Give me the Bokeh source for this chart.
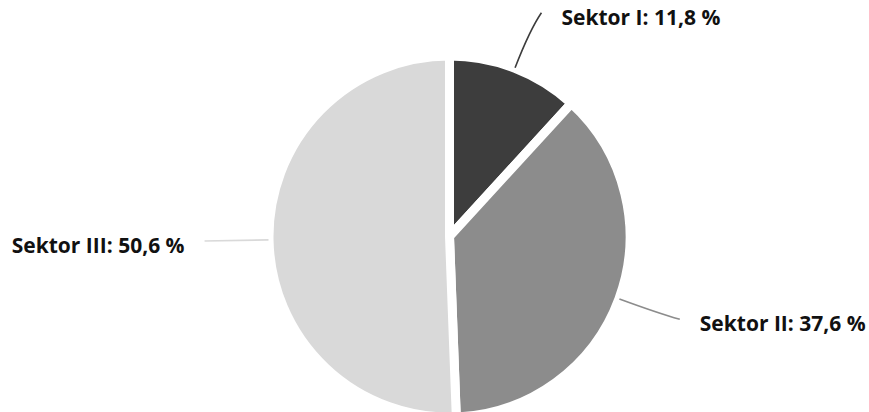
import math
from bokeh.plotting import figure
from bokeh.models import Range1d
from bokeh.core.properties import value
from bokeh.embed import file_html
from bokeh.resources import INLINE

# ---- data ----
categories = ["Sektor I", "Sektor II", "Sektor III"]
shares = [11.8, 37.6, 50.6]
labels = ["Sektor I: 11,8 %", "Sektor II: 37,6 %", "Sektor III: 50,6 %"]
colors = ["#3d3d3d", "#8c8c8c", "#d9d9d9"]

# ---- layout ----
W, H = 869, 412
CX, CY = 449, H - 236
R = 180.5           # wedge radius (white border eats 4.5px)
R_START = 181       # connector start radius
R_CTRL = 222        # connector control radius
R_LABEL = 240       # connector end radius
TEXT_GAP = 20

p = figure(width=W, height=H, x_range=Range1d(0, W), y_range=Range1d(0, H),
           output_backend="svg", toolbar_location=None, min_border=0,
           x_axis_location=None, y_axis_location=None)
p.grid.visible = False
p.outline_line_color = None
p.background_fill_color = "white"
p.border_fill_color = "white"

total = sum(shares)
starts, ends, mids = [], [], []
cum = 0.0
for s in shares:
    a0 = math.pi / 2 - cum / total * 2 * math.pi
    cum += s
    a1 = math.pi / 2 - cum / total * 2 * math.pi
    starts.append(a0)
    ends.append(a1)
    mids.append((a0 + a1) / 2)

p.wedge(x=[CX] * 3, y=[CY] * 3, radius=R, start_angle=starts, end_angle=ends,
        direction="clock", fill_color=colors, line_color="white", line_width=9)

for lab, col, m in zip(labels, colors, mids):
    c, s = math.cos(m), math.sin(m)
    side = 1 if c >= 0 else -1
    x0, y0 = CX + R_START * c, CY + R_START * s
    xc, yc = CX + R_CTRL * c, CY + R_CTRL * s
    x1, y1 = CX + R_LABEL * c + 5 * side, CY + R_LABEL * s
    p.quadratic(x0=[x0], y0=[y0], x1=[x1], y1=[y1], cx=[xc], cy=[yc],
                line_color=col, line_width=1.6)
    p.text(x=[x1 + TEXT_GAP * side], y=[y1 - 4], text=[lab],
           text_align="left" if side > 0 else "right", text_baseline="middle",
           text_font=value("Open Sans"), text_font_style="bold",
           text_font_size="21px", text_color="#111111")

open("out.html", "w").write(file_html(p, INLINE))
